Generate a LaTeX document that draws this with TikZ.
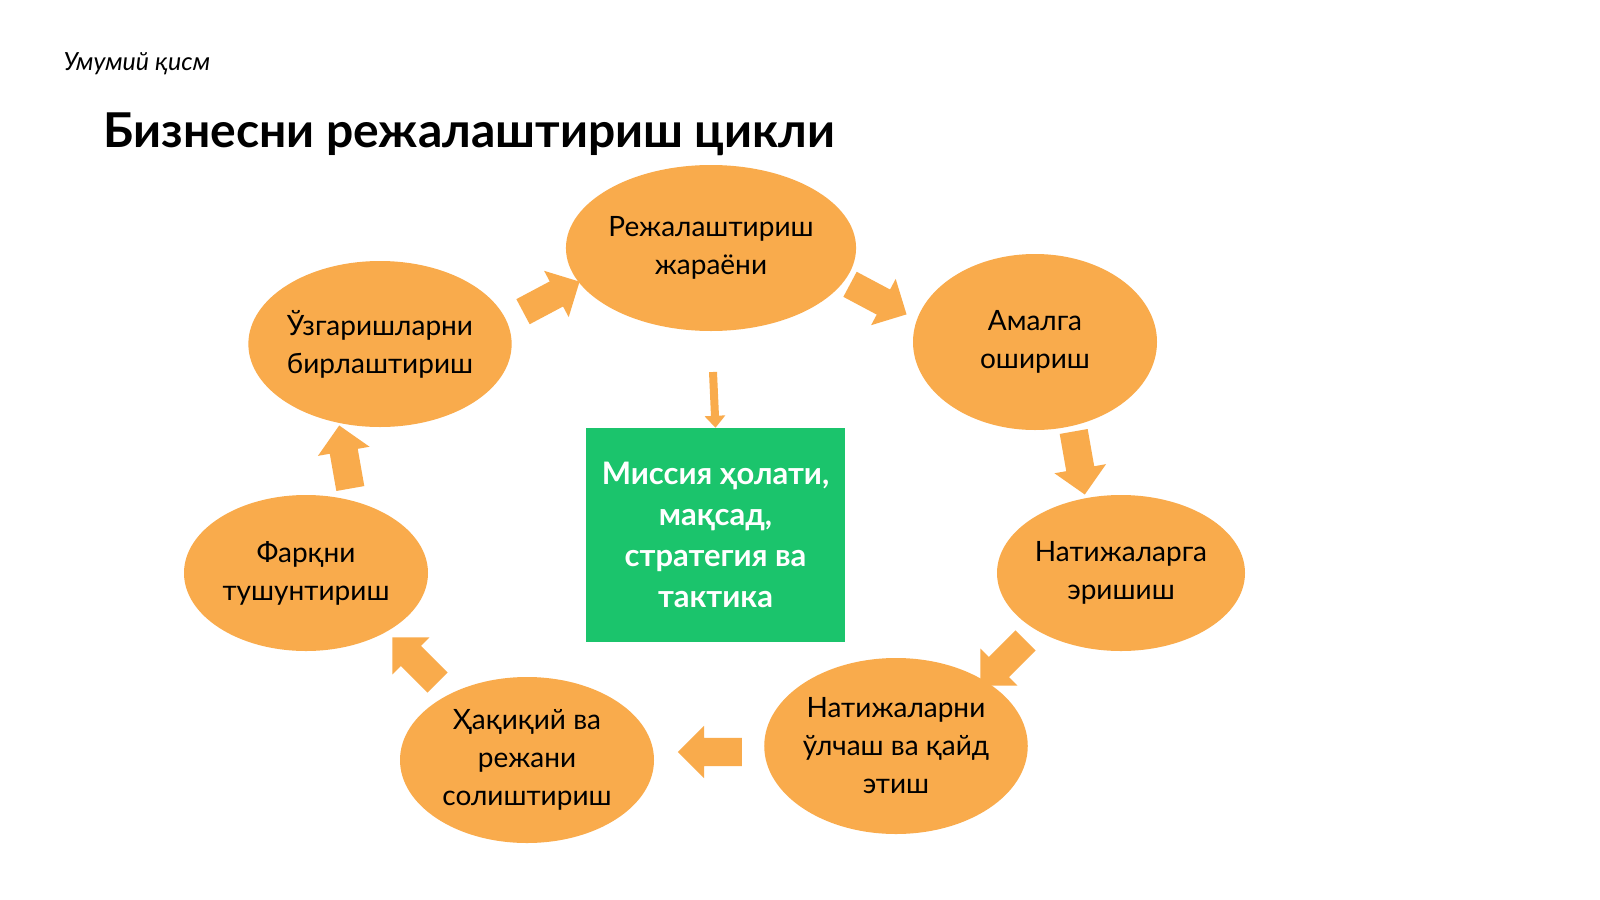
\documentclass[tikz,border=0pt]{standalone}
\usepackage{fontspec}
\setmainfont{Lato}
\usetikzlibrary{shapes.arrows,shapes.geometric,arrows.meta}
\definecolor{org}{HTML}{F9AB4C}
\definecolor{grn}{HTML}{1BC46C}
\begin{document}
\begin{tikzpicture}[x=1pt,y=-1pt,
  el/.style={ellipse,fill=org,inner sep=0pt,align=center,font=\fontsize{28}{38}\selectfont},
  ar/.style={single arrow,fill=org,minimum height=64pt,single arrow head extend=12pt,inner sep=0pt}]
\useasboundingbox (0,0) rectangle (1600,899);
\fill[white] (0,0) rectangle (1600,899);
\node[anchor=west,font=\fontsize{25}{28}\selectfont\itshape] (h) at (60,64) {Умумий қисм};
\node[anchor=base west,font=\fontsize{48}{52}\selectfont\bfseries] (t) at (100,147) {Бизнесни режалаштириш цикли};
\node[el,minimum width=274pt,minimum height=166pt] (e1) at (711,248) {Режалаштириш\\жараёни};
\node[el,minimum width=244pt,minimum height=176pt] (e2) at (1035,342) {Амалга\\ошириш};
\node[el,minimum width=248pt,minimum height=156pt] (e3) at (1121,573) {Натижаларга\\эришиш};
\node[el,minimum width=254pt,minimum height=176pt] (e4) at (896,746) {Натижаларни\\ўлчаш ва қайд\\этиш};
\node[el,minimum width=254pt,minimum height=166pt] (e5) at (527,760) {Ҳақиқий ва\\режани\\солиштириш};
\node[el,minimum width=244pt,minimum height=156pt] (e6) at (306,573) {Фарқни\\тушунтириш};
\node[el,minimum width=256pt,minimum height=166pt] (e7) at (380,344) {Ўзгаришларни\\бирлаштириш};
\node[fill=grn,minimum width=259pt,minimum height=214pt,text=white,align=center,
  font=\fontsize{31}{41}\selectfont\bfseries] (g) at (715.5,535) {Миссия ҳолати,\\мақсад,\\стратегия ва\\тактика};
\node[ar,rotate=28] (a1) at (545,300) {\rule{0pt}{28pt}};
\node[ar,rotate=-28] (a2) at (872,296) {\rule{0pt}{28pt}};
\node[ar,rotate=-80] (a3) at (1078,456) {\rule{0pt}{28pt}};
\node[ar,rotate=-135] (a4) at (1008,658) {\rule{0pt}{28pt}};
\node[ar,rotate=180] (a5) at (717,752) {\rule{0pt}{28pt}};
\node[ar,rotate=135] (a6) at (420,665) {\rule{0pt}{28pt}};
\node[ar,rotate=100] (a7) at (346,464) {\rule{0pt}{28pt}};
\coordinate (c0) at (713,372);
\draw[org,line width=8pt,-{Triangle[width=20pt,length=12pt]}] (c0) -- (g.north);
\end{tikzpicture}
\end{document}
